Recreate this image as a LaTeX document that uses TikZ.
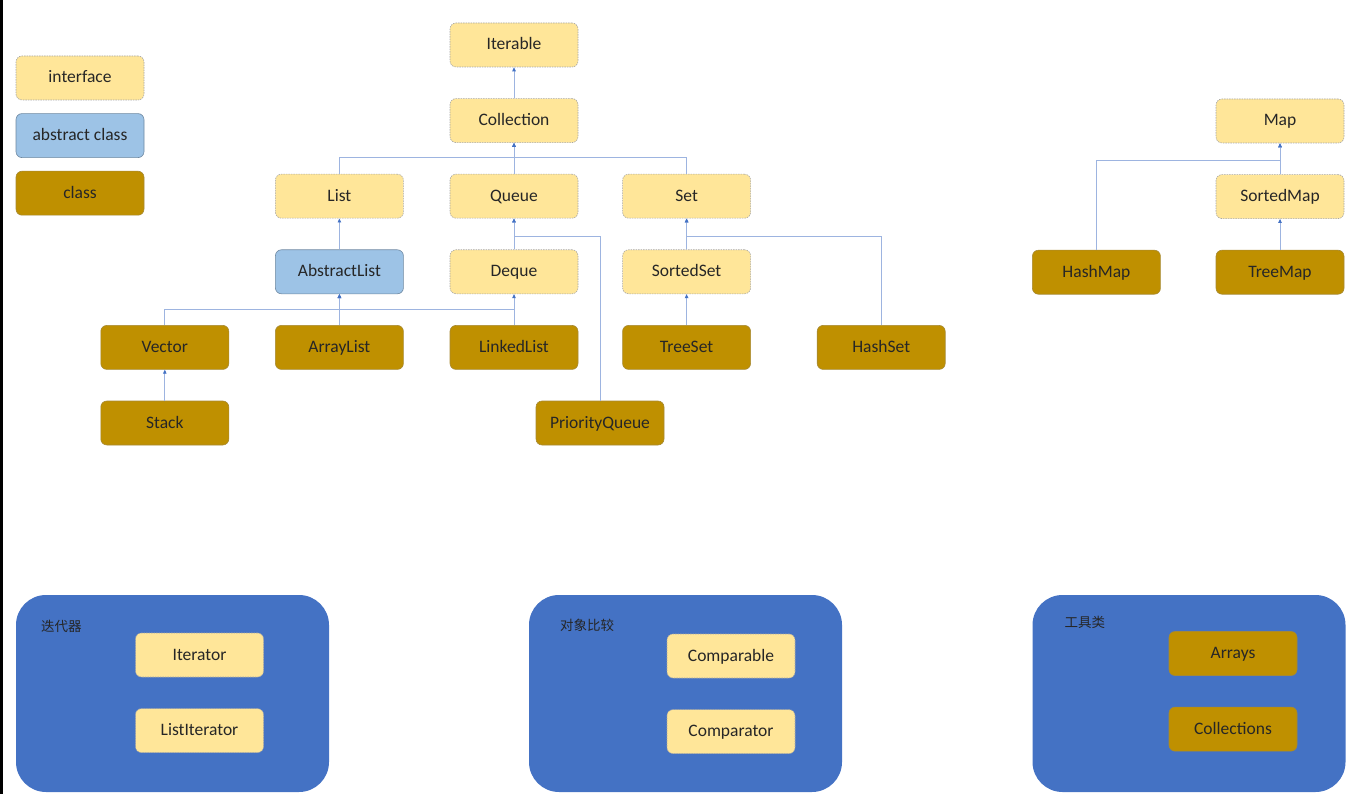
\documentclass[tikz,border=0pt]{standalone}
\usepackage{fontspec}
\setmainfont{Carlito}
\newfontfamily\cjk{Noto Sans CJK SC}
\usepackage{xcolor}
\usetikzlibrary{arrows.meta, positioning}

\definecolor{ifacefill}{HTML}{FFE699}
\definecolor{absfill}{HTML}{9DC3E6}
\definecolor{clsfill}{HTML}{BF9000}
\definecolor{groupfill}{HTML}{4472C4}
\definecolor{linkblue}{HTML}{9DB4E0}
\definecolor{tipblue}{HTML}{4472C4}

\begin{document}
\begin{tikzpicture}[
    x=1pt, y=-1pt,
    node distance=31pt and 46pt,
    box/.style={rectangle, rounded corners=6pt, minimum width=128pt, minimum height=44pt, align=center, font=\fontsize{17.5}{20}\selectfont, text=black!85, inner sep=0pt, text height=12pt, text depth=2pt},
    iface/.style={box, fill=ifacefill, draw=gray!70, line width=0.6pt, dash pattern=on 1.5pt off 1pt},
    abstr/.style={box, fill=absfill, draw=absfill!70!black, line width=0.6pt},
    cls/.style={box, fill=clsfill, draw=clsfill!60!gray, line width=0.6pt},
    group/.style={rectangle, rounded corners=30pt, minimum width=313pt, minimum height=197pt, fill=groupfill, draw=none},
    grouplabel/.style={font=\cjk\fontsize{13.5}{15}\selectfont, text=black!85, anchor=west, inner sep=0pt},
    arrow/.style={-{Triangle[length=4pt, width=3.5pt, color=tipblue]}, draw=linkblue, line width=0.9pt}
]
\useasboundingbox (0,0) rectangle (1372,794);
\draw[black, line width=3pt] (1.5,0) -- (1.5,794);

% Legend
\node[iface] (legiface) at (80,78) {interface};
\node[abstr, below=13pt of legiface] (legabs) {abstract class};
\node[cls, below=13pt of legabs] (legcls) {class};

% Collection tree
\node[iface] (iterable) at (514,45) {Iterable};
\node[iface, below=of iterable] (collection) {Collection};
\node[iface, below=of collection] (queue) {Queue};
\node[iface, left=of queue] (list) {List};
\node[iface, right=44pt of queue] (set) {Set};

\node[abstr, below=of list] (abslist) {AbstractList};
\node[iface, below=of queue] (deque) {Deque};
\node[iface, below=of set] (sortedset) {SortedSet};

\node[cls, below=of abslist] (arraylist) {ArrayList};
\node[cls, left=of arraylist] (vector) {Vector};
\node[cls, below=of deque] (linkedlist) {LinkedList};
\node[cls, below=of sortedset] (treeset) {TreeSet};
\node[cls, right=66pt of treeset] (hashset) {HashSet};

\node[cls, below=of vector] (stack) {Stack};
\node[cls, below=of linkedlist, xshift=86pt] (pqueue) {PriorityQueue};

% Map tree
\node[iface] (map) at (1280,121) {Map};
\node[iface, below=of map] (sortedmap) {SortedMap};
\node[cls, below=of sortedmap] (treemap) {TreeMap};
\node[cls, left=55pt of treemap] (hashmap) {HashMap};

% Bus points
\coordinate[below=15pt of collection] (cbus);
\coordinate[above=16pt of arraylist] (lbus);
\coordinate[below=18pt of queue] (qbus);
\coordinate[below=18pt of set] (sbus);
\coordinate[below=17pt of map] (mbus);

% Connectors
\draw[arrow] (collection) -- (iterable);
\draw[arrow] (queue) -- (collection);
\draw[arrow] (list.north) |- (cbus) -- (collection.south);
\draw[arrow] (set.north) |- (cbus) -- (collection.south);

\draw[arrow] (abslist) -- (list);
\draw[arrow] (arraylist) -- (abslist);
\draw[arrow] (vector.north) |- (lbus) -- (abslist.south);
\draw[arrow] (linkedlist.north) |- (lbus) -- (abslist.south);
\draw[arrow] (linkedlist) -- (deque);
\draw[arrow] (stack) -- (vector);

\draw[arrow] (deque) -- (queue);
\draw[arrow] (pqueue.north) |- (qbus) -- (queue.south);

\draw[arrow] (sortedset) -- (set);
\draw[arrow] (hashset.north) |- (sbus) -- (set.south);
\draw[arrow] (treeset) -- (sortedset);

\draw[arrow] (sortedmap) -- (map);
\draw[arrow] (hashmap.north) |- (mbus) -- (map.south);
\draw[arrow] (treemap) -- (sortedmap);

% Groups
\node[group] (itgroup) at (172.5,693.5) {};
\node[group] (cmpgroup) at (685.5,693.5) {};
\node[group] (utilgroup) at (1189,693.5) {};

\node[grouplabel] (itlabel) at ([xshift=25pt, yshift=-32pt]itgroup.north west) {迭代器};
\node[grouplabel] (cmplabel) at ([xshift=31pt, yshift=-31pt]cmpgroup.north west) {对象比较};
\node[grouplabel] (utillabel) at ([xshift=32pt, yshift=-28pt]utilgroup.north west) {工具类};

\node[iface] (iterator) at (199.5,655) {Iterator};
\node[iface, below=of iterator] (listiterator) {ListIterator};
\node[iface] (comparable) at (731,656) {Comparable};
\node[iface, below=of comparable] (comparator) {Comparator};
\node[cls] (arrays) at (1233,653.5) {Arrays};
\node[cls, below=31pt of arrays] (collections) {Collections};

\end{tikzpicture}
\end{document}
